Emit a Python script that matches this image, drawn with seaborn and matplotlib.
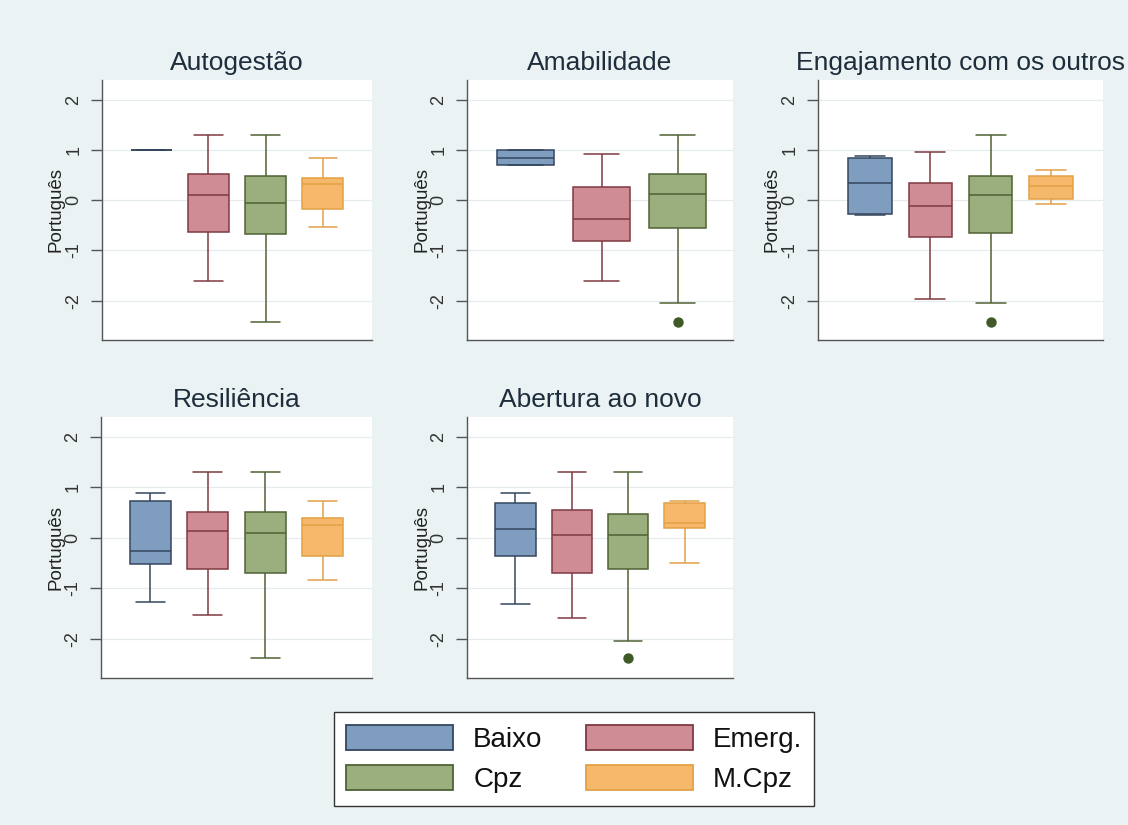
import matplotlib
matplotlib.use("Agg")
import matplotlib.pyplot as plt
from matplotlib.patches import Patch
import seaborn as sns
import pandas as pd

# ---------------- data: five-number summaries [min, q1, median, q3, max] ----------------
GROUPS = ["Baixo", "Emerg.", "Cpz", "M.Cpz"]
PANELS = ["Autogestão", "Amabilidade", "Engajamento com os outros", "Resiliência", "Abertura ao novo"]

autogestao = {
    "Baixo": [1.00, 1.00, 1.00, 1.00, 1.00],
    "Emerg.": [-1.60, -0.64, 0.10, 0.53, 1.29],
    "Cpz": [-2.42, -0.68, -0.05, 0.48, 1.29],
    "M.Cpz": [-0.54, -0.18, 0.32, 0.44, 0.83],
}
amabilidade = {
    "Baixo": [0.69, 0.69, 0.84, 1.00, 1.00],
    "Emerg.": [-1.61, -0.81, -0.38, 0.27, 0.91],
    "Cpz": [-2.05, -0.55, 0.13, 0.53, 1.30],
}
engajamento = {
    "Baixo": [-0.30, -0.27, 0.35, 0.83, 0.87],
    "Emerg.": [-1.97, -0.73, -0.11, 0.35, 0.95],
    "Cpz": [-2.05, -0.65, 0.10, 0.48, 1.30],
    "M.Cpz": [-0.08, 0.03, 0.28, 0.48, 0.61],
}
resiliencia = {
    "Baixo": [-1.28, -0.52, -0.26, 0.72, 0.89],
    "Emerg.": [-1.54, -0.62, 0.13, 0.51, 1.31],
    "Cpz": [-2.38, -0.70, 0.09, 0.51, 1.31],
    "M.Cpz": [-0.83, -0.36, 0.26, 0.38, 0.72],
}
abertura = {
    "Baixo": [-1.32, -0.36, 0.17, 0.68, 0.89],
    "Emerg.": [-1.59, -0.70, 0.05, 0.55, 1.31],
    "Cpz": [-2.05, -0.62, 0.05, 0.46, 1.31],
    "M.Cpz": [-0.51, 0.20, 0.30, 0.68, 0.72],
}
outliers = {
    "Amabilidade": {"Cpz": [-2.43]},
    "Engajamento com os outros": {"Cpz": [-2.43]},
    "Abertura ao novo": {"Cpz": [-2.38]},
}
SUMMARIES = [autogestao, amabilidade, engajamento, resiliencia, abertura]

FILL = {"Baixo": "#7f9dbf", "Emerg.": "#cf8c95", "Cpz": "#9aaf7d", "M.Cpz": "#f6b86a"}
EDGE = {"Baixo": "#34465e", "Emerg.": "#7e3a42", "Cpz": "#4f6236", "M.Cpz": "#e3a046"}
OUTLIER_COLOR = "#3f5a26"

BG = "#eaf2f3"

sns.set_theme(style="white")
plt.rcParams["font.family"] = ["Liberation Sans", "DejaVu Sans"]

fig = plt.figure(figsize=(11.28, 8.25), dpi=100, facecolor=BG)
W, H = 1128, 825

# axes boxes in pixels: (left, right, top, bottom), ylabel right-edge offset from axis (px)
boxes = [(102, 372, 80, 340, 37), (467, 733, 80, 340, 37), (818, 1103, 80, 340, 38),
         (101, 372, 417, 678, 36), (467, 733, 417, 678, 37)]

for name, summ, (l, r, t, b, loff) in zip(PANELS, SUMMARIES, boxes):
    ax = fig.add_axes([l / W, 1 - b / H, (r - l) / W, (b - t) / H])
    ax.set_facecolor("white")
    order = [g for g in GROUPS if g in summ]
    n = len(order)
    bw = 0.72 if n == 4 else 0.75
    cw = 0.5 if n == 4 else 0.45
    rows = [(g, v) for g in order for v in summ[g]]
    df = pd.DataFrame(rows, columns=["grupo", "valor"])
    for g in order:
        sub = df[df["grupo"] == g]
        sns.boxplot(data=sub, x="grupo", y="valor", order=order, color=FILL[g],
                    linecolor=EDGE[g], linewidth=1.1, width=bw, whis=(0, 100),
                    saturation=1, ax=ax, zorder=3, capwidths=cw)
    if name in outliers:
        orows = [(g, v) for g, vals in outliers[name].items() for v in vals]
        odf = pd.DataFrame(orows, columns=["grupo", "valor"])
        sns.stripplot(data=odf, x="grupo", y="valor", order=order, jitter=False,
                      color=OUTLIER_COLOR, size=7.5, ax=ax, zorder=4)
    if n == 4:
        ax.set_xlim(-0.86, 3.86)
    else:
        ax.set_xlim(-0.77, 2.73)
    ax.set_ylim(-2.78, 2.39)
    ax.set_yticks([-2, -1, 0, 1, 2])
    ax.set_yticklabels(["-2", "-1", "0", "1", "2"])
    ax.set_xticks([])
    ax.set_xlabel("")
    ax.set_ylabel("Português", fontsize=13.5, color="#222222")
    ax.yaxis.set_label_coords(-loff / (r - l), 0.5)
    ax.yaxis.grid(True, color="#e6ecee", lw=0.9)
    ax.set_axisbelow(True)
    for s in ["top", "right"]:
        ax.spines[s].set_visible(False)
    for s in ["left", "bottom"]:
        ax.spines[s].set_color("#555555")
        ax.spines[s].set_linewidth(1.0)
    ax.tick_params(axis="y", direction="out", length=8, width=1, color="#555555",
                   labelsize=13, labelcolor="#333333", left=True, pad=6)
    for lab in ax.get_yticklabels():
        lab.set_rotation(90)
        lab.set_va("center")
    ax.set_title(name, fontsize=19, color="#1e2d3c", pad=7)

handles_order = ["Baixo", "Cpz", "Emerg.", "M.Cpz"]
handles = [Patch(facecolor=FILL[g], edgecolor=EDGE[g], linewidth=1.3) for g in handles_order]
leg = fig.legend(handles, handles_order, ncol=2, loc="center",
                 bbox_to_anchor=(574 / W, 1 - 759 / H), frameon=True, fancybox=False,
                 framealpha=1.0,
                 edgecolor="#333333", fontsize=20, handlelength=3.85, handleheight=1.0,
                 columnspacing=1.55, handletextpad=0.72, labelspacing=0.45, borderpad=0.45)
leg.get_frame().set_linewidth(1.0)
leg.get_frame().set_facecolor("white")
for txt in leg.get_texts():
    txt.set_color("#111111")

fig.savefig("out.png", dpi=100, facecolor=BG)
